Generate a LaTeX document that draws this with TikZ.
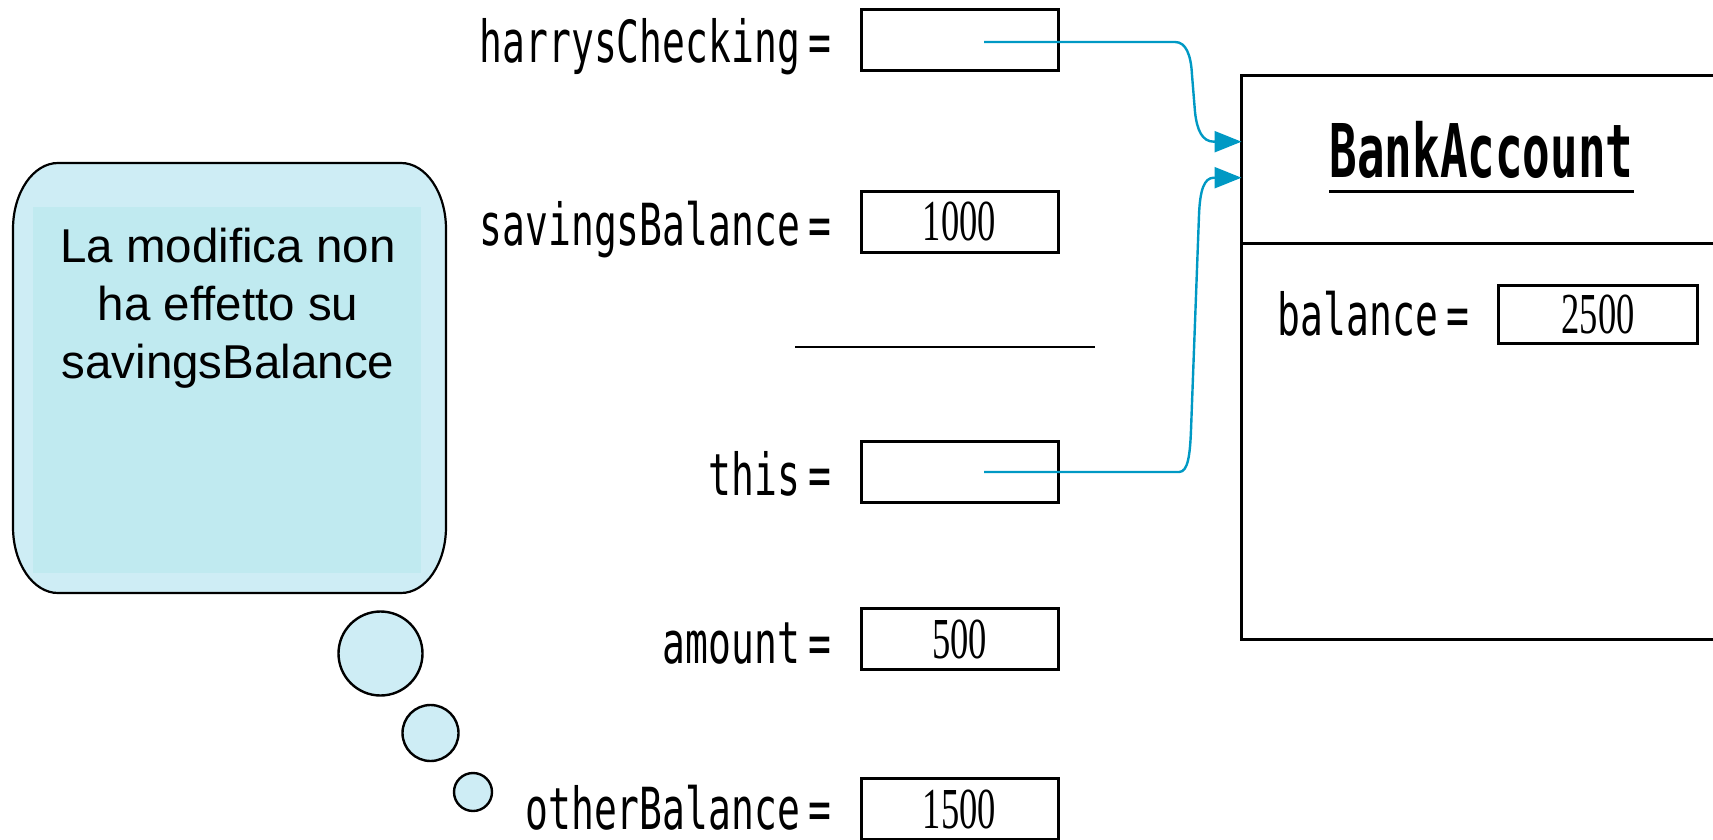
\documentclass[tikz,border=0pt]{standalone}
\usepackage{fontspec}
\setmainfont{Liberation Sans}
\newfontfamily\codefont[FakeStretch=0.655]{DejaVu Sans Mono}
\newfontfamily\titlefont[FakeStretch=0.62]{DejaVu Sans Mono Bold}
\newfontfamily\numfont[FakeStretch=0.63]{Liberation Serif}
\usetikzlibrary{arrows.meta,calc}

\definecolor{bubblefill}{RGB}{206,237,245}
\definecolor{bubbleinner}{RGB}{192,234,240}
\definecolor{refblue}{RGB}{0,153,196}

\begin{document}
\begin{tikzpicture}[x=1pt,y=-1pt,
  varbox/.style={draw, line width=3pt, minimum width=197pt, minimum height=61pt,
                 inner sep=0pt, font=\numfont\fontsize{58}{58}\selectfont},
  varlabel/.style={anchor=base east, inner sep=0pt, font=\codefont\fontsize{58}{58}\selectfont},
  refarrow/.style={draw=refblue, line width=2.4pt, -{Triangle[length=27pt,width=21pt]}},
  thought/.style={draw, line width=2.4pt, fill=bubblefill},
]
\useasboundingbox (0,0) rectangle (1713,840);

% ---- thought bubble -------------------------------------------------
\draw[line width=2.2pt, fill=bubblefill]
  (58,163) -- (401,163)
  arc[start angle=-90, end angle=0, x radius=45, y radius=66] -- (446,527)
  arc[start angle=0, end angle=90, x radius=45, y radius=66] -- (58,593)
  arc[start angle=90, end angle=180, x radius=45, y radius=66] -- (13,229)
  arc[start angle=180, end angle=270, x radius=45, y radius=66] -- cycle;
\fill[bubbleinner] (33,207) rectangle (421,573);
% the base anchor of this three-line node sits on its last line
\node[align=center, font=\fontsize{47.5}{58}\selectfont, anchor=base, inner sep=0pt]
  (note) at (228,378) {La modifica non\\ha effetto su\\savingsBalance};

\draw[thought] (380.5,653.5) circle[radius=42];
\draw[thought] (430.5,733) circle[radius=28];
\draw[thought] (473,792) circle[radius=19];

% ---- local variables ------------------------------------------------
\node[varbox] (hc) at (959.5,40.5) {};
\node[varlabel] (hc-lbl) at (832,63) {harrysChecking\kern9pt=};

\node[varbox] (sb) at (959.5,221.5) {1000};
\node[varlabel] (sb-lbl) at (832,245) {savingsBalance\kern9pt=};

\draw[line width=2.5pt] (795,347) -- (1095,347);

\node[varbox] (this) at (959.5,472) {};
\node[varlabel] (this-lbl) at (832,495) {this\kern9pt=};

\node[varbox] (amount) at (959.5,639) {500};
\node[varlabel] (amount-lbl) at (832,663) {amount\kern9pt=};

\node[varbox] (other) at (959.5,809) {1500};
\node[varlabel] (other-lbl) at (832,829) {otherBalance\kern9pt=};

% ---- the BankAccount object -----------------------------------------
\node[draw, line width=3pt, outer sep=0pt, inner sep=0pt, anchor=north west,
      minimum width=518.5pt, minimum height=563.3pt] (bank) at (1241.5,75.7) {};
\draw[line width=3pt] (bank.west |- 0,243) -- (bank.east |- 0,243);
\node[anchor=base, inner sep=0pt, font=\titlefont\fontsize{74}{74}\selectfont]
  (title) at (1481.5,177) {BankAccount};
\draw[line width=3pt] ($(title.base west)+(0,14)$) -- ($(title.base east)+(0,14)$);

\node[varbox, minimum width=199pt, minimum height=58pt] (bal) at (1598,314.5) {2500};
\node[varlabel] (bal-lbl) at (1470,335) {balance\kern9pt=};

% ---- references -----------------------------------------------------
\coordinate (hc-src) at ($(hc.center)+(24.5,1.5)$);
\coordinate (this-src) at ($(this.center)+(24.5,0)$);
\coordinate (in1) at ($(bank.north west)+(0,66)$);
\coordinate (in2) at ($(bank.north west)+(0,102)$);

\draw[refarrow] (hc-src) -- (1175,42)
  .. controls (1186,42) and (1191,55) .. (1192,75) -- (1195,112)
  .. controls (1197,130) and (1202,141.7) .. (1214,141.7) -- (in1);
\draw[refarrow] (this-src) -- (1179,472)
  .. controls (1188,472) and (1190,455) .. (1191,430) -- (1199,215)
  .. controls (1200,190) and (1204,177.7) .. (1214,177.7) -- (in2);
\end{tikzpicture}
\end{document}
